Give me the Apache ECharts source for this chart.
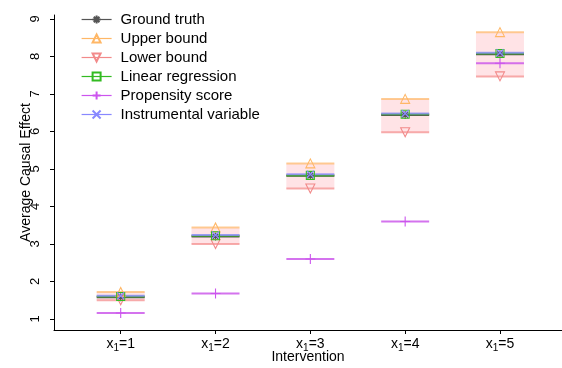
<!DOCTYPE html>
<html>
<head>
<meta charset="utf-8">
<script src="https://cdn.jsdelivr.net/npm/echarts@6/dist/echarts.min.js"></script>
<style>
  html, body { margin: 0; padding: 0; background: #fff; }
  #chart { width: 562px; height: 368px; }
</style>
</head>
<body>
<div id="chart"></div>
<script>
// interventions x1 = 1..5
const interventions = [1, 2, 3, 4, 5];
const yTicks = [1, 2, 3, 4, 5, 6, 7, 8, 9];

// average causal effect per method
const groundTruth = [1.58, 3.20, 4.82, 6.44, 8.06];
const upperBound = [1.72, 3.44, 5.15, 6.87, 8.65];
const lowerBound = [1.50, 3.00, 4.48, 5.98, 7.47];
const linearRegression = [1.60, 3.22, 4.83, 6.46, 8.08];
const propensityScore = [1.16, 1.68, 2.60, 3.60, 7.82];
const instrumentalVariable = [1.62, 3.24, 4.86, 6.48, 8.10];

const FONT = '"Liberation Sans", Arial, Helvetica, sans-serif';
const HALF = 0.253; // half width of each horizontal segment (axis units)

// marker shapes (R pch style)
const ASTERISK = 'path://M0,5L10,5M5,0L5,10M1.5,1.5L8.5,8.5M1.5,8.5L8.5,1.5';
const PLUS = 'path://M0,5L10,5M5,0L5,10';
const CROSS = 'path://M0,0L10,10M0,10L10,0';

const methods = [
  { name: 'Ground truth', data: groundTruth, color: '#555555', symbol: ASTERISK, size: 8, seg: 'rgba(60,60,60,0.85)' },
  { name: 'Upper bound', data: upperBound, color: '#FFB766', symbol: 'triangle', size: 9, seg: 'rgba(255,190,120,0.8)' },
  { name: 'Lower bound', data: lowerBound, color: '#F28A8A', symbol: 'triangle', rotate: 180, size: 9, seg: 'rgba(245,150,150,0.8)' },
  { name: 'Linear regression', data: linearRegression, color: '#33BB22', symbol: 'rect', size: 8, seg: 'rgba(60,170,30,0.9)' },
  { name: 'Propensity score', data: propensityScore, color: '#CC55EE', symbol: PLUS, size: 10, seg: 'rgba(205,90,235,0.85)' },
  { name: 'Instrumental variable', data: instrumentalVariable, color: '#8888FF', symbol: CROSS, size: 7, seg: 'rgba(140,140,255,0.8)' }
];

const chart = echarts.init(document.getElementById('chart'));

const series = [];

// pink band between lower and upper bound
series.push({
  name: 'band',
  type: 'custom',
  z: 1,
  silent: true,
  data: interventions.map((x, i) => [x, lowerBound[i], upperBound[i]]),
  renderItem: (params, api) => {
    const p1 = api.coord([api.value(0) - HALF, api.value(2)]);
    const p2 = api.coord([api.value(0) + HALF, api.value(1)]);
    return {
      type: 'rect',
      shape: { x: p1[0], y: p1[1], width: p2[0] - p1[0], height: p2[1] - p1[1] },
      style: { fill: 'rgba(255,200,205,0.5)' }
    };
  }
});

// horizontal segments for each method
methods.forEach((m, k) => {
  series.push({
    name: m.name + ' seg',
    type: 'custom',
    z: 2 + k,
    silent: true,
    data: interventions.map((x, i) => [x, m.data[i]]),
    renderItem: (params, api) => {
      const a = api.coord([api.value(0) - HALF, api.value(1)]);
      const b = api.coord([api.value(0) + HALF, api.value(1)]);
      return {
        type: 'line',
        shape: { x1: a[0], y1: a[1], x2: b[0], y2: b[1] },
        style: { stroke: m.seg, lineWidth: 2 }
      };
    }
  });
});

// markers (also used for the legend)
methods.forEach((m, k) => {
  series.push({
    name: m.name,
    type: 'line',
    z: 20 + k,
    silent: true,
    data: interventions.map((x, i) => [x, m.data[i]]),
    symbol: m.symbol,
    symbolSize: m.size,
    symbolRotate: m.rotate || 0,
    showSymbol: true,
    lineStyle: { color: m.color, opacity: 0, width: 1 },
    itemStyle: { color: 'rgba(255,255,255,0)', borderColor: m.color, borderWidth: 1.1 }
  });
});

const option = {
  animation: false,
  textStyle: { fontFamily: FONT },
  grid: { left: 54, right: 0, top: 15, bottom: 38, outerBoundsMode: 'none' },
  legend: {
    data: methods.map(m => m.name),
    orient: 'vertical',
    left: 76,
    top: 7,
    itemWidth: 30,
    itemHeight: 10,
    itemGap: 4,
    selectedMode: false,
    lineStyle: { opacity: 1, width: 1.2 },
    textStyle: { fontFamily: FONT, fontSize: 15, color: '#000', padding: [0, 0, 0, 4] }
  },
  xAxis: {
    type: 'value',
    min: 0.2966,
    max: 5.654,
    name: 'Intervention',
    nameLocation: 'middle',
    nameGap: 20,
    nameMoveOverlap: false,
    nameTextStyle: { fontFamily: FONT, fontSize: 14, color: '#000', verticalAlign: 'top' },
    splitLine: { show: false },
    axisLine: { lineStyle: { color: '#000', width: 1 } },
    axisTick: { customValues: interventions, length: 4, lineStyle: { color: '#000' } },
    axisLabel: {
      customValues: interventions,
      margin: 6,
      color: '#000',
      formatter: v => '{a|x}{s|1}{a|=' + v + '}',
      rich: {
        a: { fontFamily: FONT, fontSize: 14, color: '#000', lineHeight: 16 },
        s: { fontFamily: FONT, fontSize: 10, color: '#000', lineHeight: 16, padding: [8, 0, 0, 0] }
      }
    }
  },
  yAxis: {
    type: 'value',
    min: 0.7067,
    max: 9.1067,
    name: 'Average Causal Effect',
    nameLocation: 'middle',
    nameGap: 21,
    nameRotate: 90,
    nameMoveOverlap: false,
    nameTextStyle: { fontFamily: FONT, fontSize: 14, color: '#000' },
    splitLine: { show: false },
    axisLine: { show: true, lineStyle: { color: '#000', width: 1 } },
    axisTick: { show: true, customValues: yTicks, length: 4, lineStyle: { color: '#000' } },
    axisLabel: {
      customValues: yTicks,
      rotate: 90,
      margin: 12,
      fontFamily: FONT,
      fontSize: 13,
      color: '#000'
    }
  },
  series: series
};

chart.setOption(option);
</script>
</body>
</html>
